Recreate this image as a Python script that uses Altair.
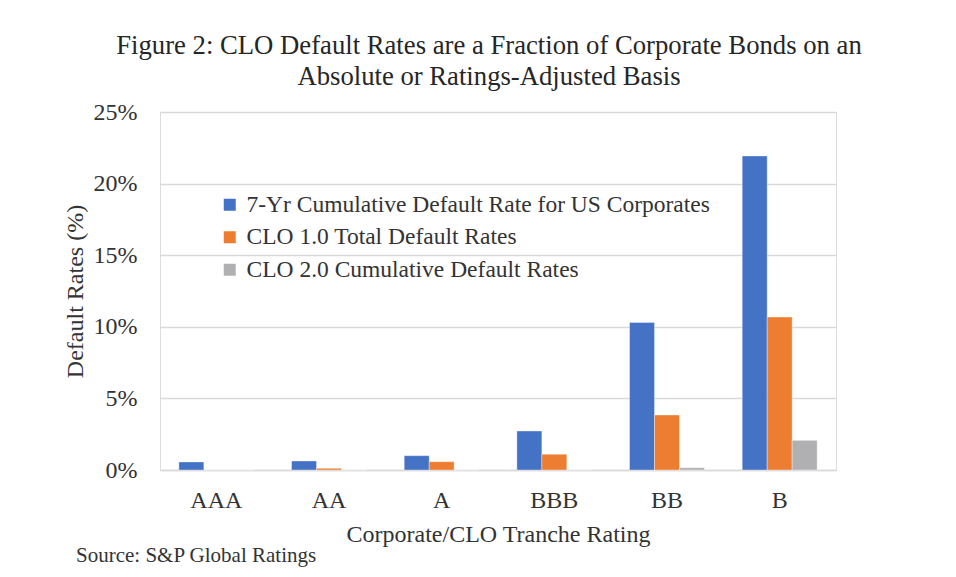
import altair as alt
import pandas as pd

ratings = ["AAA", "AA", "A", "BBB", "BB", "B"]
series = [
    "7-Yr Cumulative Default Rate for US Corporates",
    "CLO 1.0 Total Default Rates",
    "CLO 2.0 Cumulative Default Rates",
]
corp = [0.56, 0.63, 1.0, 2.72, 10.3, 21.93]
clo1 = [0.0, 0.12, 0.58, 1.1, 3.84, 10.68]
clo2 = [0.0, 0.0, 0.0, 0.0, 0.16, 2.07]
colors = ["#4472C4", "#ED7D31", "#B0B0B3"]
y_ticks = [0, 5, 10, 15, 20, 25]
title_lines = [
    "Figure 2: CLO Default Rates are a Fraction of Corporate Bonds on an",
    "Absolute or Ratings-Adjusted Basis",
]
source_note = "Source: S&P Global Ratings"

rows = []
for s, vals in zip(series, [corp, clo1, clo2]):
    for r, v in zip(ratings, vals):
        rows.append({"rating": r, "series": s, "value": v})
df = pd.DataFrame(rows)

FONT = "Liberation Serif"
TXT = "#333333"
FS = 24

bars = alt.Chart(df).mark_bar(stroke="#ffffff", strokeWidth=0.6, strokeOpacity=0.6).encode(
    x=alt.X(
        "rating:N",
        sort=ratings,
        scale=alt.Scale(paddingInner=0.335, paddingOuter=0.1675),
        axis=alt.Axis(
            title="Corporate/CLO Tranche Rating",
            labelAngle=0,
            labelFont=FONT,
            labelFontSize=FS,
            labelColor=TXT,
            labelPadding=18,
            titleFont=FONT,
            titleFontSize=FS,
            titleFontWeight="normal",
            titleColor=TXT,
            titlePadding=10,
            ticks=False,
            domain=True,
            domainColor="#d9d9d9",
            domainWidth=1.5,
        ),
    ),
    xOffset=alt.XOffset("series:N", sort=series, scale=alt.Scale(paddingInner=0, paddingOuter=0)),
    y=alt.Y(
        "value:Q",
        scale=alt.Scale(domain=[0, 25], nice=False),
        axis=alt.Axis(
            title="Default Rates (%)",
            values=y_ticks,
            labelExpr="datum.value + '%'",
            labelFont=FONT,
            labelFontSize=FS,
            labelColor=TXT,
            labelPadding=23,
            titleFont=FONT,
            titleFontSize=FS,
            titleFontWeight="normal",
            titleColor=TXT,
            titlePadding=6,
            ticks=False,
            domain=False,
            grid=True,
            gridColor="#d9d9d9",
            gridWidth=1.5,
        ),
    ),
    color=alt.Color(
        "series:N",
        sort=series,
        scale=alt.Scale(domain=series, range=colors),
        legend=alt.Legend(
            title=None,
            orient="none",
            legendX=58,
            legendY=81,
            symbolType="square",
            symbolSize=144,
            symbolStrokeWidth=0,
            labelFont=FONT,
            labelFontSize=23.5,
            labelColor=TXT,
            labelLimit=700,
            rowPadding=7.5,
            symbolOffset=0,
            labelOffset=5,
        ),
    ),
)

note = alt.Chart(pd.DataFrame({"t": [source_note]})).mark_text(
    font=FONT, fontSize=21, color=TXT, align="left", baseline="middle"
).encode(x=alt.value(-84), y=alt.value(444), text="t:N")

chart = (
    alt.layer(bars, note)
    .properties(
        width=676,
        height=358,
        autosize=alt.AutoSizeParams(type="none"),
        padding={"left": 152, "top": 104, "right": 112, "bottom": 99},
        title=alt.TitleParams(
            text=title_lines,
            font=FONT,
            fontSize=26.7,
            fontWeight="normal",
            color="#262626",
            anchor="middle",
            dx=-9,
            offset=9,
            lineHeight=31,
        ),
    )
    .configure_view(stroke=None)
    .configure(background="#ffffff")
)

chart.save("out.html", embed_options={"renderer": "svg", "actions": False})
